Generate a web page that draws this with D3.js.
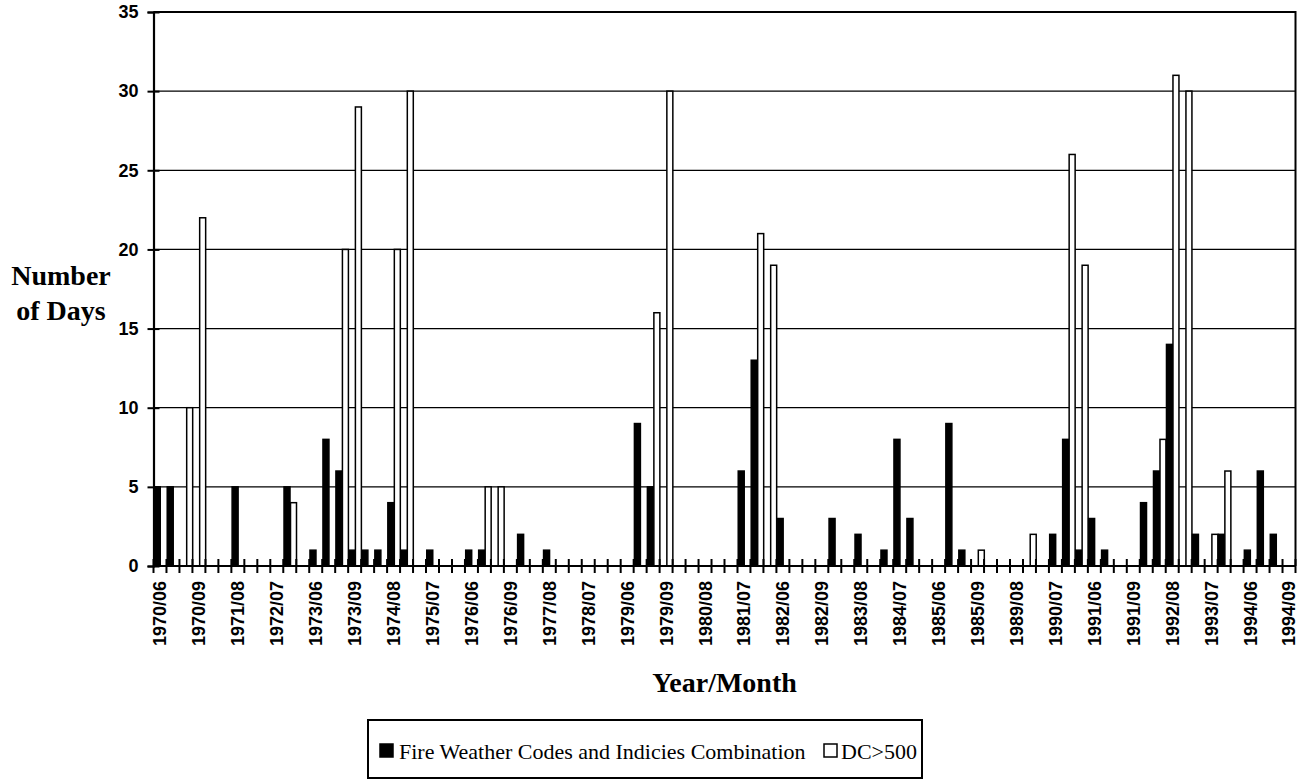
<!DOCTYPE html>
<html>
<head>
<meta charset="utf-8">
<script src="https://cdn.jsdelivr.net/npm/d3@7"></script>
<style>
  html, body { margin: 0; padding: 0; background: #fff; }
  svg { display: block; }
</style>
</head>
<body>
<svg id="chart" width="1303" height="780"></svg>
<script>
// ---- data ----
const years = [1970,1971,1972,1973,1974,1975,1976,1977,1978,1979,1980,1981,1982,1983,1984,1985,1989,1990,1991,1992,1993,1994];
const months = ["06","07","08","09"];
const categories = years.flatMap(yr => months.map(m => yr + "/" + m));

const fireWeather = [
  5,5,0,0,   0,0,5,0,   0,0,5,0,   1,8,6,1,   1,1,4,1,   0,1,0,0,
  1,1,0,0,   2,0,1,0,   0,0,0,0,   0,9,5,0,   0,0,0,0,   0,6,13,0,
  3,0,0,0,   3,0,2,0,   1,8,3,0,   0,9,1,0,   0,0,0,0,   0,2,8,1,
  3,1,0,0,   4,6,14,0,  2,0,2,0,   1,6,2,0
];
const dc500 = [
  0,0,10,22, 0,0,0,0,   0,0,4,0,   0,0,20,29, 0,0,20,30, 0,0,0,0,
  0,5,5,0,   0,0,0,0,   0,0,0,0,   0,0,16,30, 0,0,0,0,   0,0,21,19,
  0,0,0,0,   0,0,0,0,   0,0,0,0,   0,0,0,1,   0,0,0,2,   0,0,26,19,
  0,0,0,0,   0,8,31,30, 0,2,6,0,   0,0,0,0
];
const seriesNames = ["Fire Weather Codes and Indicies Combination", "DC>500"];
const seriesFill = ["#000000", "#ffffff"];
const yTicks = [0,5,10,15,20,25,30,35];
const xLabels = categories.filter((d, i) => i % 3 === 0);

(function () {
  const rows = categories.map((c, i) => ({ cat: c, values: [fireWeather[i], dc500[i]] }));

  const svg = d3.select("#chart");
  const pL = 153.5, pR = 1295.5, pT = 12, pB = 566;

  const x = d3.scaleBand().domain(categories).range([pL, pR]).paddingInner(0).paddingOuter(0);
  const xs = d3.scaleBand().domain([0, 1]).range([0, x.bandwidth()]).padding(0);
  const y = d3.scaleLinear().domain([0, 35]).range([pB, pT]);

  // gridlines
  svg.append("g")
    .selectAll("line")
    .data(yTicks.filter(t => t > 0))
    .join("line")
    .attr("x1", pL).attr("x2", pR)
    .attr("y1", d => y(d)).attr("y2", d => y(d))
    .attr("stroke", "#000").attr("stroke-width", 1.2);

  // bars
  const groups = svg.append("g")
    .selectAll("g")
    .data(rows)
    .join("g")
    .attr("transform", d => `translate(${x(d.cat)},0)`);

  groups.selectAll("rect")
    .data(d => d.values.map((v, k) => ({ v, k })).filter(e => e.v > 0))
    .join("rect")
    .attr("x", e => xs(e.k) + 0.75)
    .attr("width", xs.bandwidth() - 0.5)
    .attr("y", e => y(e.v))
    .attr("height", e => y(0) - y(e.v))
    .attr("fill", e => seriesFill[e.k])
    .attr("stroke", "#000")
    .attr("stroke-width", 1.5);

  // plot frame (top & right)
  svg.append("path")
    .attr("d", `M${pL},${pT}H${pR}V${pB}`)
    .attr("fill", "none").attr("stroke", "#000").attr("stroke-width", 2);

  // y axis
  const yAxis = d3.axisLeft(y).tickValues(yTicks).tickSize(6).tickPadding(8);
  const gy = svg.append("g").attr("transform", `translate(${pL},0)`).call(yAxis);
  gy.select(".domain").attr("stroke-width", 2.2);
  gy.selectAll(".tick line").attr("stroke-width", 2).attr("x2", -6).attr("x1", 6);
  gy.selectAll(".tick text")
    .attr("font-family", "'Liberation Sans', Arial, sans-serif")
    .attr("font-weight", "bold").attr("font-size", 18).attr("fill", "#000")
    .attr("x", -15);

  // x axis tick marks at category boundaries
  const boundaries = categories.map(c => x(c)).concat([x(categories[categories.length - 1]) + x.bandwidth()]);
  svg.append("g")
    .selectAll("line")
    .data(boundaries)
    .join("line")
    .attr("x1", d => d).attr("x2", d => d)
    .attr("y1", pB - 7).attr("y2", pB + 7)
    .attr("stroke", "#000").attr("stroke-width", 2);

  svg.append("line")
    .attr("x1", pL).attr("x2", pR)
    .attr("y1", pB).attr("y2", pB)
    .attr("stroke", "#000").attr("stroke-width", 2.2);

  // x labels
  const xAxis = d3.axisBottom(x).tickValues(xLabels).tickSize(0).tickPadding(0);
  const gx = svg.append("g").attr("transform", `translate(0,${pB})`).call(xAxis);
  gx.select(".domain").remove();
  gx.selectAll(".tick text")
    .attr("font-family", "'Liberation Sans', Arial, sans-serif")
    .attr("font-weight", "bold").attr("font-size", 18).attr("fill", "#000")
    .attr("text-anchor", "end")
    .attr("transform", "rotate(-90)")
    .attr("x", -15).attr("y", 0).attr("dy", "0.36em");

  // axis titles
  const yTitle = svg.append("text")
    .attr("font-family", "'Liberation Serif', 'Times New Roman', serif")
    .attr("font-weight", "bold").attr("font-size", 28)
    .attr("text-anchor", "middle").attr("fill", "#000");
  yTitle.append("tspan").attr("x", 61).attr("y", 285).text("Number");
  yTitle.append("tspan").attr("x", 61).attr("y", 320).text("of Days");

  svg.append("text")
    .attr("x", (pL + pR) / 2).attr("y", 692)
    .attr("font-family", "'Liberation Serif', 'Times New Roman', serif")
    .attr("font-weight", "bold").attr("font-size", 28)
    .attr("text-anchor", "middle").attr("fill", "#000")
    .text("Year/Month");

  // legend
  const lg = svg.append("g");
  lg.append("rect").attr("x", 368).attr("y", 720).attr("width", 554).attr("height", 58)
    .attr("fill", "#fff").attr("stroke", "#000").attr("stroke-width", 2);
  const legendX = [380, 824];
  const legendTextX = [399, 841];
  seriesNames.forEach((name, k) => {
    lg.append("rect").attr("x", legendX[k]).attr("y", 744).attr("width", 13).attr("height", 13)
      .attr("fill", seriesFill[k]).attr("stroke", "#000").attr("stroke-width", 1.5);
    lg.append("text").attr("x", legendTextX[k]).attr("y", 759)
      .attr("font-family", "'Liberation Serif', 'Times New Roman', serif")
      .attr("font-size", 22).attr("fill", "#000")
      .text(name);
  });
})();
</script>
</body>
</html>
